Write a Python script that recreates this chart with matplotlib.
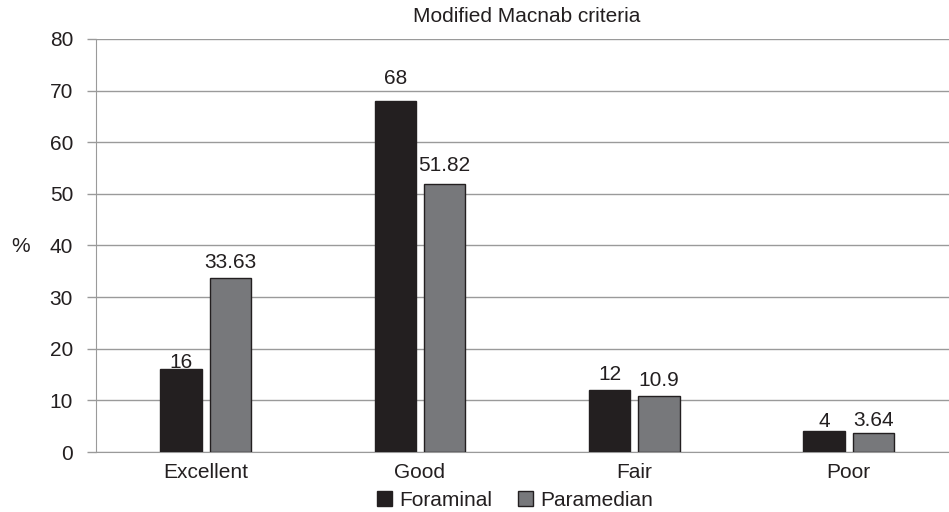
import matplotlib
matplotlib.use("Agg")
import matplotlib.pyplot as plt
import numpy as np

categories = ["Excellent", "Good", "Fair", "Poor"]
foraminal = [16, 68, 12, 4]
paramedian = [33.63, 51.82, 10.9, 3.64]
foraminal_labels = ["16", "68", "12", "4"]
paramedian_labels = ["33.63", "51.82", "10.9", "3.64"]
yticks = [0, 10, 20, 30, 40, 50, 60, 70, 80]

plt.rcParams["font.family"] = ["Liberation Sans", "DejaVu Sans"]

FS = 15
DARK = "#231f20"
GRID = "#9a9a9a"

fig = plt.figure(figsize=(9.49, 5.12), dpi=100)
ax = fig.add_axes([96 / 949, 1 - 452 / 512, (949 - 96) / 949, (452 - 39) / 512])

x = np.arange(len(categories))
w = 0.193
off = 0.115
b1 = ax.bar(x - off, foraminal, w, color=DARK, edgecolor=DARK, linewidth=1, zorder=3, label="Foraminal")
b2 = ax.bar(x + off, paramedian, w, color="#77787b", edgecolor=DARK, linewidth=1, zorder=3, label="Paramedian")

# gap (points) between bar top and label baseline
gap_f = [0.8, 12.0, 7.0, 3.0]
gap_p = [7.7, 10.0, 7.0, 5.0]
for bars, labels, gaps in ((b1, foraminal_labels, gap_f), (b2, paramedian_labels, gap_p)):
    for rect, lab, g in zip(bars, labels, gaps):
        ax.annotate(lab, (rect.get_x() + rect.get_width() / 2, rect.get_height()),
                    xytext=(0, g), textcoords="offset points",
                    ha="center", va="baseline", fontsize=FS, color=DARK)

ax.set_xlim(-0.511, 3.468)
ax.set_ylim(0, 80)
ax.set_yticks(yticks)
ax.set_xticks(x)
ax.set_xticklabels(categories)
ax.tick_params(axis="y", length=6.5, width=1, color=GRID, labelsize=FS, labelcolor=DARK, pad=10)
ax.tick_params(axis="x", length=0, labelsize=FS, labelcolor=DARK, pad=8)
ax.yaxis.grid(True, color=GRID, linewidth=1, zorder=0)
ax.set_axisbelow(True)
for s in ["top", "right"]:
    ax.spines[s].set_visible(False)
ax.spines["left"].set_color(GRID)
ax.spines["bottom"].set_color(GRID)

fig.text(527 / 949, 1 - 17 / 512, "Modified Macnab criteria", fontsize=FS, color=DARK,
         ha="center", va="center")
fig.text(11 / 949, 1 - 246 / 512, "%", fontsize=FS, color=DARK, ha="left", va="center")

fig.legend(handles=[b1, b2], loc="center", bbox_to_anchor=(515 / 949, 1 - 500 / 512), ncol=2,
           frameon=False, fontsize=FS, handlelength=0.75, handleheight=0.75, handletextpad=0.35,
           columnspacing=1.2, borderpad=0, labelcolor=DARK)

fig.savefig("out.png", dpi=100)
